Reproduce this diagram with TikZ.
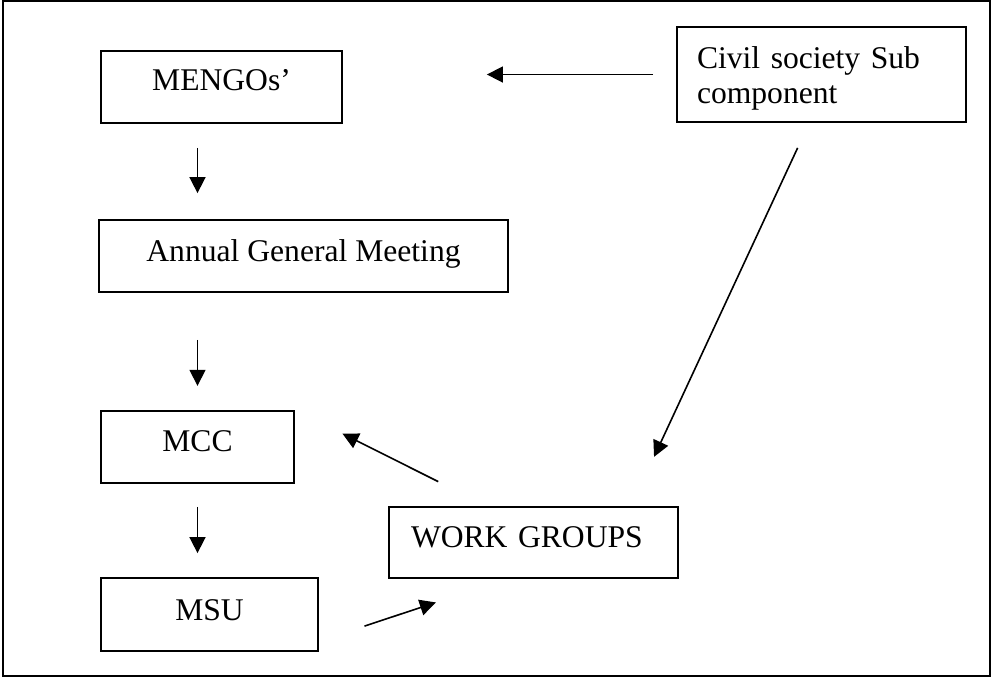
\documentclass[tikz,border=0pt]{standalone}
\usepackage{fontspec}
\setmainfont{Liberation Serif}
\usetikzlibrary{arrows.meta,calc}
\begin{document}
\begin{tikzpicture}[x=0.5pt,y=-0.5pt,
  box/.style={draw,line width=0.9pt,inner ysep=0pt,inner xsep=0pt,font=\fontsize{15.8}{17.6}\selectfont},
  arr/.style={line width=0.8pt,-{Triangle[length=8pt,width=8pt]}}]
\useasboundingbox (0,0) rectangle (992,677);
\draw[line width=1pt] (3,1) rectangle (990,676);
\node[box,minimum width=120.5pt,text height=20pt,text depth=16pt] (mengos) at (221.5,86.7) {MENGOs’};
\node[box,minimum width=204.5pt,text height=20.5pt,text depth=15.5pt] (agm) at (303.5,256) {Annual General Meeting};
\node[box,minimum width=96.5pt,text height=20.5pt,text depth=15.8pt] (mcc) at (197.5,447) {MCC};
\node[box,minimum width=108.5pt,text height=21pt,text depth=15.5pt] (msu) at (209.5,614.5) {MSU};
\node[box,text width=122.5pt,inner xsep=11pt,align=left,text height=20.15pt,text depth=15.5pt] (wg) at (533.5,542.35) {WORK GROUPS};
\node[box,text width=124.5pt,inner xsep=10pt,align=left,text height=20.65pt,text depth=27.15pt] (civil) at (821.5,74.5) {Civil society Sub\\component};
\draw[arr,shorten <=12.15pt,shorten >=13pt] (mcc.north |- mengos.south) -- (mcc.north |- agm.north);
\draw[arr,shorten <=23.5pt,shorten >=12pt] (mcc.north |- agm.south) -- (mcc.north);
\draw[arr,shorten <=11.35pt,shorten >=12pt] (mcc.south) -- (mcc.south |- msu.north);
\draw[arr,shorten <=11.5pt,shorten >=72pt] (civil.west) -- (civil.west -| mengos.east);
\draw[arr,shorten <=13.6pt,shorten >=27pt] ([xshift=-6.2pt]civil.south) -- ([xshift=48.9pt]wg.north);
\draw[arr,shorten <=27pt,shorten >=26.6pt] ([xshift=-23.5pt]wg.north) -- (mcc.north east);
\draw[arr,shorten <=24pt,shorten >=37.4pt] ([yshift=-13.35pt]msu.east) -- ([xshift=-13.3pt]wg.south);
\end{tikzpicture}
\end{document}
